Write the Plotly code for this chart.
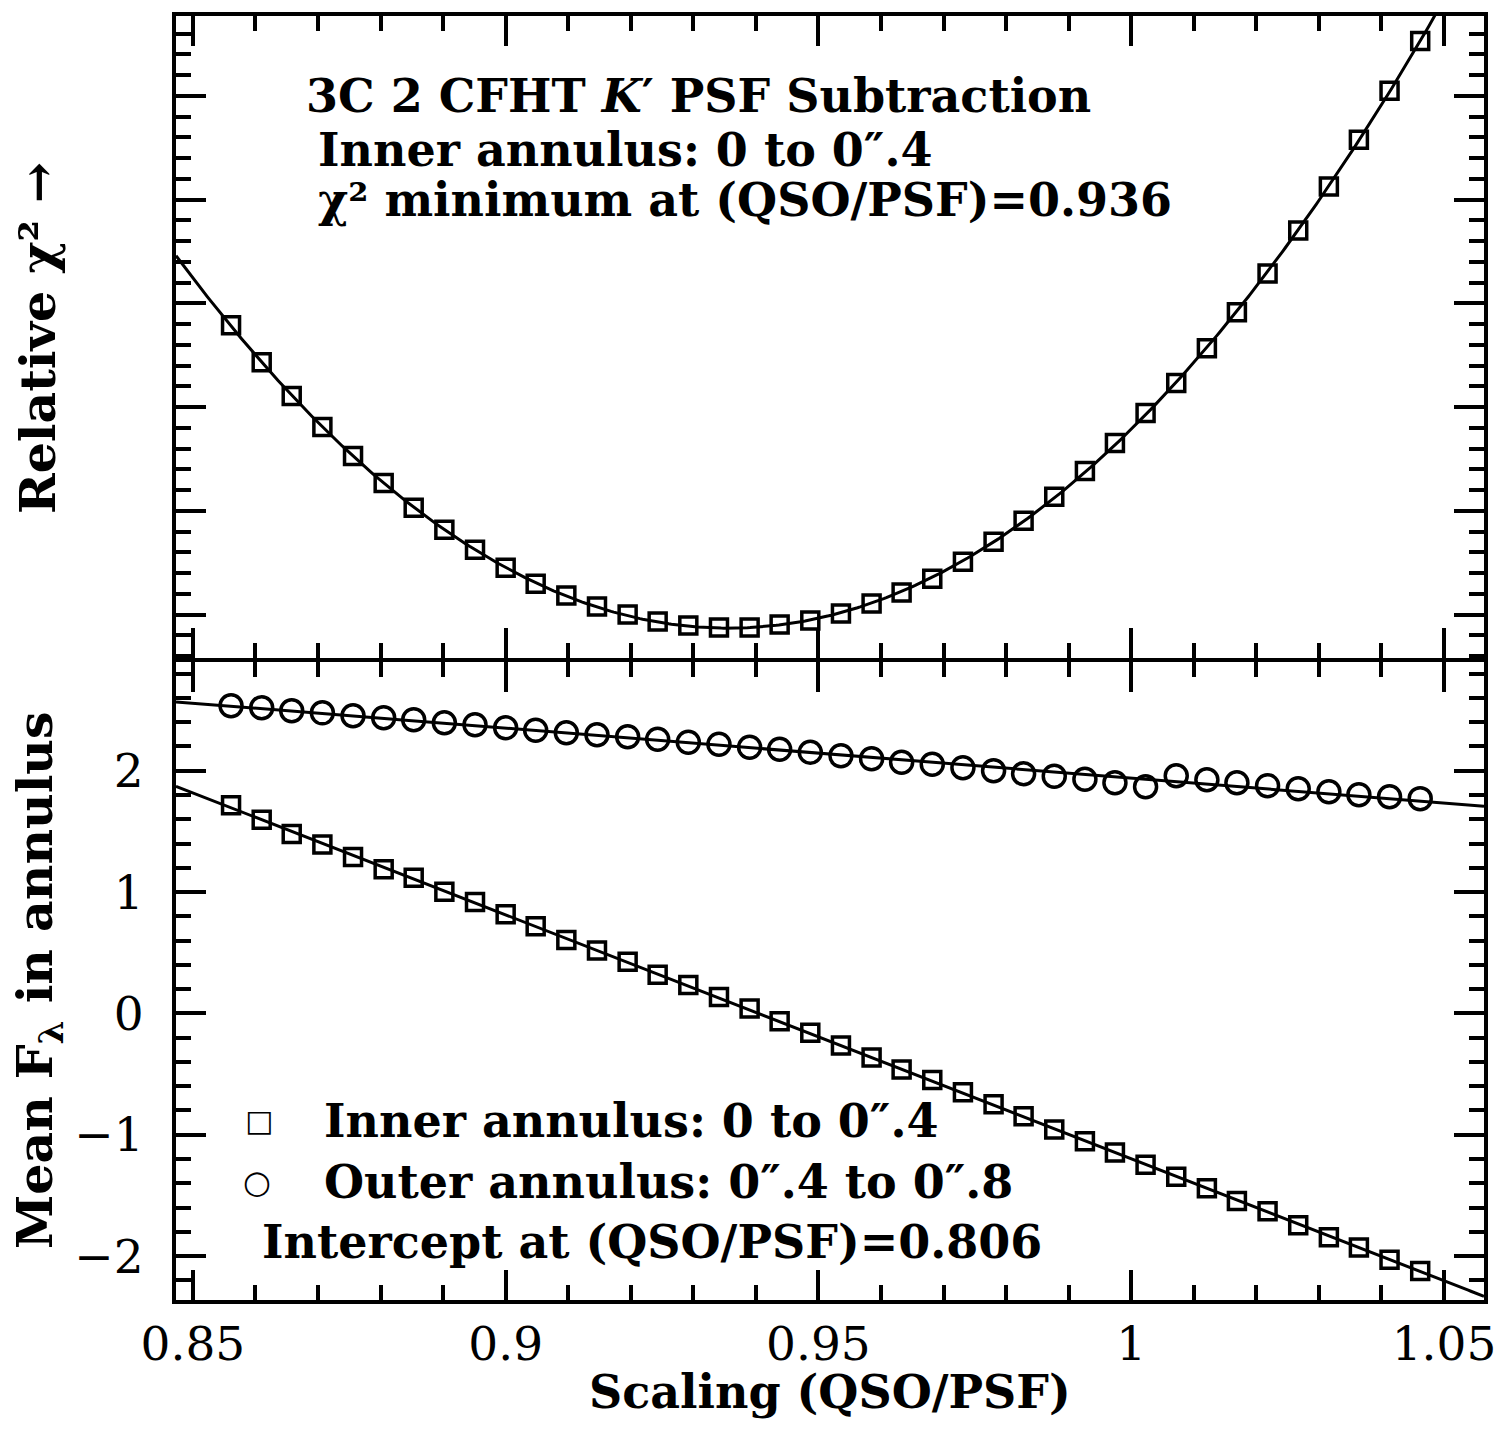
import numpy as np
import plotly.graph_objects as go
from plotly.subplots import make_subplots

# ---------------- data ----------------
scaling = [0.8561, 0.8610, 0.8658, 0.8707, 0.8756, 0.8805, 0.8853, 0.8902, 0.8951, 0.9000,
           0.9048, 0.9097, 0.9146, 0.9195, 0.9243, 0.9292, 0.9341, 0.9390, 0.9438, 0.9487,
           0.9536, 0.9585, 0.9633, 0.9682, 0.9731, 0.9780, 0.9828, 0.9877, 0.9926, 0.9974,
           1.0023, 1.0072, 1.0121, 1.0169, 1.0218, 1.0267, 1.0316, 1.0364, 1.0413, 1.0462]

chi2_rel = [3.788, 3.433, 3.106, 2.808, 2.529, 2.269, 2.029, 1.817, 1.625, 1.452,
            1.298, 1.183, 1.077, 1.000, 0.933, 0.894, 0.875, 0.875, 0.904, 0.942,
            1.010, 1.106, 1.212, 1.346, 1.510, 1.702, 1.904, 2.135, 2.385, 2.654,
            2.942, 3.231, 3.567, 3.913, 4.288, 4.702, 5.125, 5.577, 6.048, 6.529]

flux_inner = [1.715, 1.596, 1.479, 1.393, 1.288, 1.188, 1.117, 1.003, 0.918, 0.818,
              0.719, 0.604, 0.519, 0.426, 0.319, 0.235, 0.135, 0.041, -0.065, -0.159,
              -0.264, -0.364, -0.463, -0.549, -0.649, -0.748, -0.848, -0.956, -1.053, -1.147,
              -1.247, -1.347, -1.440, -1.546, -1.631, -1.745, -1.844, -1.930, -2.030, -2.123]

flux_outer = [2.535, 2.519, 2.494, 2.477, 2.453, 2.436, 2.420, 2.395, 2.379, 2.354,
              2.333, 2.313, 2.296, 2.280, 2.259, 2.235, 2.218, 2.193, 2.177, 2.152,
              2.123, 2.099, 2.070, 2.053, 2.025, 2.000, 1.975, 1.955, 1.930, 1.901,
              1.868, 1.959, 1.926, 1.901, 1.877, 1.852, 1.827, 1.802, 1.786, 1.770]

x_range = [0.8473, 1.0564]
chi2_range = [0.586, 6.769]
flux_range = [-2.362, 2.90]

x_ticks = [0.85, 0.9, 0.95, 1.0, 1.05]
x_tick_labels = ["0.85", "0.9", "0.95", "1", "1.05"]
flux_ticks = [-2, -1, 0, 1, 2]
flux_tick_labels = ["\u22122", "\u22121", "0", "1", "2"]

FONT = "DejaVu Serif"
BLACK = "black"

# ---------------- fits ----------------
xs = np.array(scaling)
xf = np.linspace(x_range[0], x_range[1], 500)
chi2_fit = np.polyval(np.polyfit(xs, chi2_rel, 3), xf)
inner_fit = np.polyval(np.polyfit(xs, flux_inner, 1), xf)
outer_fit = np.polyval(np.polyfit(xs, flux_outer, 1), xf)

fig = make_subplots(rows=2, cols=1, shared_xaxes=True, vertical_spacing=0.0031,
                    row_heights=[0.5012, 0.4988])

line_style = dict(color=BLACK, width=3)
sq_marker = dict(symbol="square-open", size=17, color=BLACK, line=dict(color=BLACK, width=3.5))
ci_marker = dict(symbol="circle-open", size=22, color=BLACK, line=dict(color=BLACK, width=3.5))

fig.add_trace(go.Scatter(x=xf, y=chi2_fit, mode="lines", line=line_style, hoverinfo="skip"), row=1, col=1)
fig.add_trace(go.Scatter(x=scaling, y=chi2_rel, mode="markers", marker=sq_marker), row=1, col=1)

fig.add_trace(go.Scatter(x=xf, y=outer_fit, mode="lines", line=line_style, hoverinfo="skip"), row=2, col=1)
fig.add_trace(go.Scatter(x=xf, y=inner_fit, mode="lines", line=line_style, hoverinfo="skip"), row=2, col=1)
fig.add_trace(go.Scatter(x=scaling, y=flux_outer, mode="markers", marker=ci_marker), row=2, col=1)
fig.add_trace(go.Scatter(x=scaling, y=flux_inner, mode="markers", marker=sq_marker), row=2, col=1)

axis_common = dict(showline=True, linewidth=4, linecolor=BLACK, mirror="ticks",
                   ticks="inside", tickwidth=4, tickcolor=BLACK,
                   showgrid=False, zeroline=False)

for r in (1, 2):
    fig.update_xaxes(range=x_range, tickvals=x_ticks, ticktext=x_tick_labels, ticklen=30,
                     minor=dict(dtick=0.01, tick0=0.85, ticks="inside", ticklen=15,
                                tickwidth=4, tickcolor=BLACK, showgrid=False),
                     **axis_common, row=r, col=1)
fig.update_xaxes(showticklabels=False, row=1, col=1)
fig.update_xaxes(showticklabels=True, tickfont=dict(family=FONT, size=47, color=BLACK),
                 ticklabelstandoff=0, row=2, col=1)

fig.update_yaxes(range=chi2_range, tick0=1, dtick=1, ticklen=30, showticklabels=False,
                 minor=dict(dtick=0.2, tick0=1, ticks="inside", ticklen=15,
                            tickwidth=4, tickcolor=BLACK, showgrid=False),
                 **axis_common, row=1, col=1)
fig.update_yaxes(range=flux_range, tickvals=flux_ticks, ticktext=flux_tick_labels, ticklen=30,
                 tickfont=dict(family=FONT, size=47, color=BLACK), ticklabelstandoff=19,
                 minor=dict(dtick=0.2, tick0=0, ticks="inside", ticklen=15,
                            tickwidth=4, tickcolor=BLACK, showgrid=False),
                 **axis_common, row=2, col=1)

tf = dict(family=FONT, size=46, color=BLACK, weight="bold")
ann = []
# top panel text
ann.append(dict(text="3C 2 CFHT <i>K</i>\u2032 PSF Subtraction", x=0.0976, y=0.9378))
ann.append(dict(text="Inner annulus: 0 to 0\u2033.4", x=0.1068, y=0.8959))
ann.append(dict(text="\u03c7\u00b2 minimum at (QSO/PSF)=0.936", x=0.1068, y=0.8570))
# bottom panel legend text
ann.append(dict(text="Inner annulus: 0 to 0\u2033.4", x=0.1114, y=0.1395))
ann.append(dict(text="Outer annulus: 0\u2033.4 to 0\u2033.8", x=0.1114, y=0.0920))
ann.append(dict(text="Intercept at (QSO/PSF)=0.806", x=0.0640, y=0.0450))
for a in ann:
    fig.add_annotation(xref="paper", yref="paper", xanchor="left", yanchor="middle",
                       showarrow=False, font=tf, **a)
# legend symbols
fig.add_annotation(text="\u25a1", x=0.0633, y=0.1395, xref="paper", yref="paper",
                   xanchor="center", yanchor="middle", showarrow=False,
                   font=dict(family="DejaVu Sans", size=30, color=BLACK, weight="bold"))
fig.add_annotation(text="\u25cb", x=0.0618, y=0.0920, xref="paper", yref="paper",
                   xanchor="center", yanchor="middle", showarrow=False,
                   font=dict(family="DejaVu Sans", size=32, color=BLACK, weight="bold"))
# axis titles
yt = dict(family=FONT, size=49, color=BLACK, weight="bold")
fig.add_annotation(text="Relative \u03c7\u00b2 \u2192", x=-0.1053, y=0.7494, xref="paper", yref="paper",
                   xanchor="center", yanchor="middle", textangle=-90, showarrow=False, font=yt)
fig.add_annotation(text="Mean F<sub>\u03bb</sub> in annulus", x=-0.1053, y=0.2494, xref="paper", yref="paper",
                   xanchor="center", yanchor="middle", textangle=-90, showarrow=False, font=yt)
fig.add_annotation(text="Scaling (QSO/PSF)", x=0.5, y=-0.072, xref="paper", yref="paper",
                   xanchor="center", yanchor="middle", showarrow=False, font=tf)

fig.update_layout(width=1508, height=1437, showlegend=False,
                  margin=dict(l=176, r=21, t=13, b=137),
                  paper_bgcolor="white", plot_bgcolor="white",
                  font=dict(family=FONT, color=BLACK))

fig.write_html("out.html")
